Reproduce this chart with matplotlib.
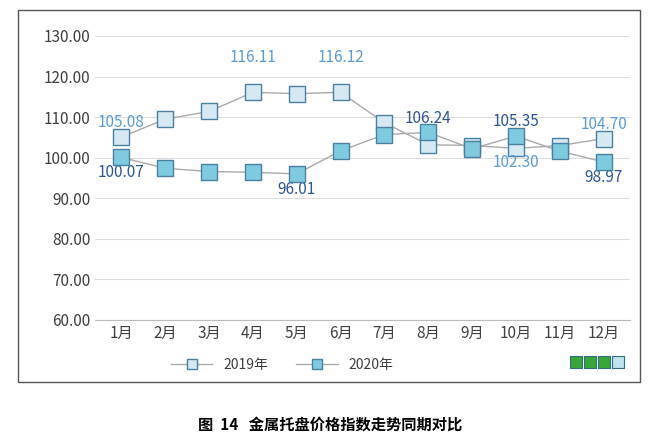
import matplotlib.pyplot as plt
from matplotlib.patches import Rectangle

plt.rcParams['font.family'] = 'Noto Sans CJK SC'

months = ['1月', '2月', '3月', '4月', '5月', '6月', '7月', '8月', '9月', '10月', '11月', '12月']
y2019 = [105.08, 109.5, 111.4, 116.11, 115.8, 116.12, 108.6, 103.2, 103.0, 102.30, 103.0, 104.70]
y2020 = [100.07, 97.4, 96.6, 96.4, 96.01, 101.7, 105.7, 106.24, 102.2, 105.35, 101.6, 98.97]
lab2019 = {0: '105.08', 3: '116.11', 5: '116.12', 9: '102.30', 11: '104.70'}
lab2020 = {0: '100.07', 4: '96.01', 7: '106.24', 9: '105.35', 11: '98.97'}

fig = plt.figure(figsize=(6.6, 4.46), dpi=100)
fig.patches.append(Rectangle((18/660, 1-382/446), 622/660, 372/446, transform=fig.transFigure,
                             fill=False, edgecolor='#555555', lw=1))
ax = fig.add_axes([95/660, 1-320/446, 535/660, 284/446])
x = range(len(months))
ax.plot(x, y2019, color='#aaaaaa', lw=1, marker='s', ms=11, mfc='#d6e9f2', mec='#4a7fa0',
        label='2019年', zorder=3)
ax.plot(x, y2020, color='#aaaaaa', lw=1, marker='s', ms=11, mfc='#7ecbdf', mec='#4a7fa0',
        label='2020年', zorder=4)
for i, t in lab2019.items():
    dy = -3.5 if i == 9 else 3.5
    ax.text(i, y2019[i] + dy + (5 if i in (3, 5) else 0), t, color='#5b9bd5', fontsize=11,
            ha='center', va='center')
for i, t in lab2020.items():
    dy = 3.5 if i in (7, 9) else -3.8
    ax.text(i, y2020[i] + dy, t, color='#2f5597', fontsize=11, ha='center', va='center')
ax.set_ylim(60, 130)
ax.set_yticks(range(60, 131, 10))
ax.set_yticklabels([f'{v:.2f}' for v in range(60, 131, 10)], fontsize=11, color='#404040')
ax.set_xlim(-0.6, 11.6)
ax.set_xticks(list(x))
ax.set_xticklabels(months, fontsize=11, color='#404040')
ax.grid(axis='y', color='#dddddd', lw=0.8)
ax.set_axisbelow(True)
for s in ['top', 'right', 'left']:
    ax.spines[s].set_visible(False)
ax.spines['bottom'].set_color('#bbbbbb')
ax.tick_params(length=0)
ax.legend(loc='upper center', bbox_to_anchor=(0.35, -0.09), ncol=2, frameon=False,
          fontsize=10, markerscale=0.6, handlelength=3, labelcolor='#404040')
for k, c in enumerate(['#3aa53a', '#3aa53a', '#3aa53a', '#bfe3ef']):
    fig.patches.append(Rectangle(((570 + k*14)/660, 1-368/446), 12/660, 12/446,
                                 transform=fig.transFigure, facecolor=c, edgecolor='#2f6f7f', lw=0.8))
fig.text(0.5, 1-425/446, '图  14   金属托盘价格指数走势同期对比', ha='center', va='center',
         fontsize=11, fontweight='bold')
fig.savefig('out.png', dpi=100)
